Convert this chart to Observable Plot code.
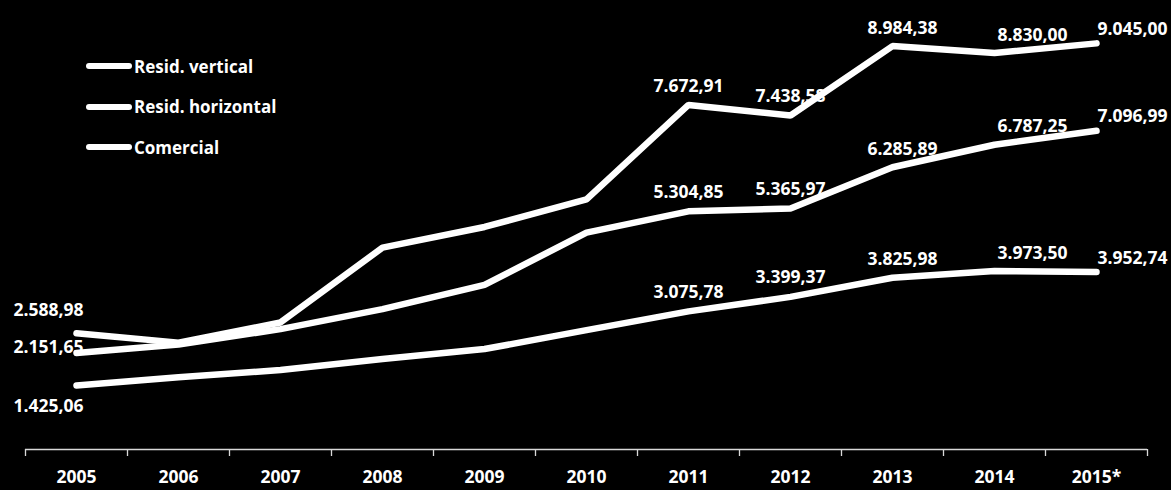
<!DOCTYPE html>
<html>
<head>
<meta charset="utf-8">
<script src="https://cdn.jsdelivr.net/npm/d3@7"></script>
<script src="https://cdn.jsdelivr.net/npm/@observablehq/plot@0.6"></script>
<style>
  html, body { margin: 0; padding: 0; background: #000; }
  #wrap { position: relative; width: 1171px; height: 490px; background: #000; overflow: hidden; }
  #legend { position: absolute; left: 86px; top: 54px; font-family: "Open Sans", sans-serif; font-weight: 700; font-size: 17px; color: #fff; }
  .item { display: flex; align-items: center; height: 24px; margin-bottom: 16.5px; }
  .swatch { width: 46px; height: 6px; background: #fff; border-radius: 3px; margin-right: 2px; }
</style>
</head>
<body>
<div id="wrap"><div id="chart"></div><div id="legend"></div></div>
<script>
const years = ["2005", "2006", "2007", "2008", "2009", "2010", "2011", "2012", "2013", "2014", "2015*"];
const seriesNames = ["Resid. vertical", "Resid. horizontal", "Comercial"];
const residVertical = [2588.98, 2380, 2829, 4496, 4956, 5570, 7672.91, 7438.58, 8984.38, 8830.00, 9045.00];
const residHorizontal = [2151.65, 2340, 2681, 3126, 3667, 4829, 5304.85, 5365.97, 6285.89, 6787.25, 7096.99];
const comercial = [1425.06, 1607, 1771, 2015, 2237, 2659, 3075.78, 3399.37, 3825.98, 3973.50, 3952.74];
const labeledYears = ["2005", "2011", "2012", "2013", "2014", "2015*"];

const seriesValues = [residVertical, residHorizontal, comercial];
const rows = [];
seriesNames.forEach((name, s) => {
  seriesValues[s].forEach((v, i) => rows.push({series: name, s, i, year: years[i], value: v}));
});

const locale = d3.formatLocale({decimal: ",", thousands: ".", grouping: [3], currency: ["R$", ""]});
const fmt = locale.format(",.2f");

const labelRows = rows.filter(d => labeledYears.includes(d.year));
const textStyle = {fill: "#fff", fontWeight: 700, fontSize: 17.5, text: d => fmt(d.value)};
const pos = d => d.i + 0.5;

// label placement groups
const first = labelRows.filter(d => d.i === 0);
const last = labelRows.filter(d => d.i === years.length - 1);
const mid = labelRows.filter(d => d.i > 0 && d.i < years.length - 2 && d.i !== 8);
const y2013 = labelRows.filter(d => d.i === 8);
const y2014 = labelRows.filter(d => d.i === years.length - 2);
const firstDy = [-23, -6, 21];

const marks = [
  Plot.ruleY([0], {stroke: "#d9d9d9", strokeWidth: 1.3}),
  Plot.axisX({ticks: d3.range(0, years.length + 1), tickSize: 7, tickFormat: () => "", stroke: "#d9d9d9", strokeWidth: 1.3}),
  Plot.axisX({ticks: d3.range(years.length).map(i => i + 0.5), tickSize: 0, tickPadding: 21,
    tickFormat: t => years[Math.round(t - 0.5)], fill: "#fff", fontWeight: 700, fontSize: 17.5}),
  Plot.line(rows, {x: pos, y: "value", z: "series", stroke: "#fff", strokeWidth: 6.5,
    strokeLinecap: "round", strokeLinejoin: "miter"}),
  Plot.text(mid, {...textStyle, x: pos, y: "value", dy: -19}),
  Plot.text(y2013, {...textStyle, x: pos, y: "value", dy: -18, dx: 10}),
  Plot.text(y2014, {...textStyle, x: pos, y: "value", dy: -18, dx: 38}),
  Plot.text(last, {...textStyle, x: pos, y: "value", dy: -14, dx: 1, textAnchor: "start"}),
  ...first.map(d => Plot.text([d], {...textStyle, x: pos, y: "value", dx: -28, dy: firstDy[d.s]}))
];

const chart = Plot.plot({
  width: 1171,
  height: 490,
  marginLeft: 25,
  marginRight: 24,
  marginTop: 0,
  marginBottom: 41,
  style: {background: "#000", color: "#fff", fontFamily: "'Open Sans', sans-serif", overflow: "visible"},
  x: {type: "linear", domain: [0, years.length], axis: null},
  y: {domain: [0, 10000], axis: null},
  marks
});
document.getElementById("chart").appendChild(chart);

const legend = document.getElementById("legend");
seriesNames.forEach(name => {
  const item = document.createElement("div");
  item.className = "item";
  const sw = document.createElement("span");
  sw.className = "swatch";
  const label = document.createElement("span");
  label.textContent = name;
  item.appendChild(sw);
  item.appendChild(label);
  legend.appendChild(item);
});
</script>
</body>
</html>
